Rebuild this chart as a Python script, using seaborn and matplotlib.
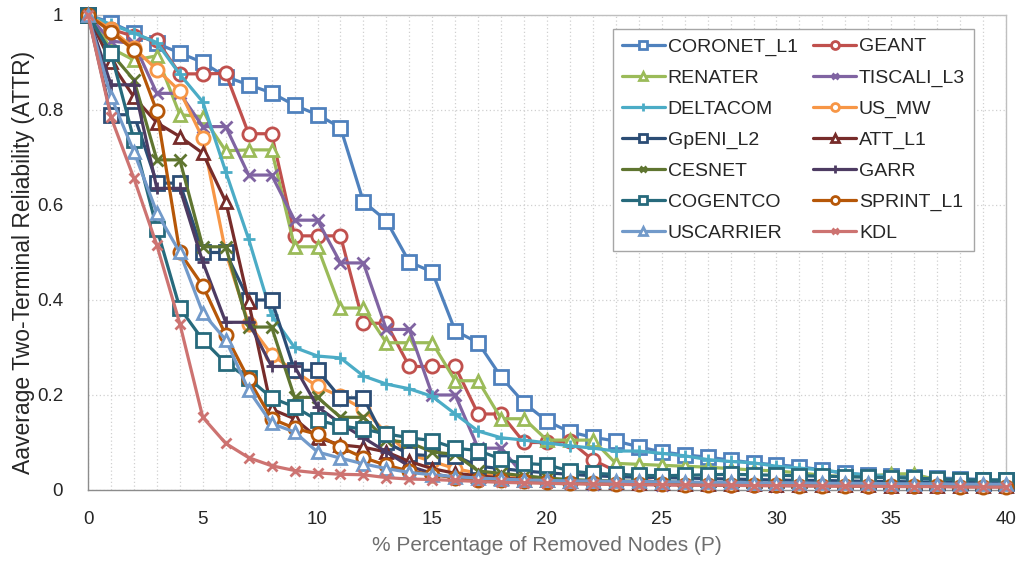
import matplotlib
matplotlib.use("Agg")
import matplotlib.pyplot as plt
import seaborn as sns
import pandas as pd
from matplotlib.ticker import MultipleLocator

# Percentage of removed nodes (x axis)
removed_pct = list(range(0, 41))

coronet_l1 = [1.0, 0.984, 0.962, 0.94, 0.92, 0.90, 0.87, 0.853, 0.836, 0.81, 0.79,
              0.763, 0.607, 0.567, 0.48, 0.459, 0.335, 0.31, 0.238, 0.183, 0.145,
              0.122, 0.111, 0.103, 0.091, 0.08, 0.074, 0.069, 0.063, 0.057, 0.053,
              0.049, 0.042, 0.035, 0.032, 0.03, 0.028, 0.025, 0.024, 0.022, 0.02]
geant = [1.0, 0.97, 0.955, 0.947, 0.876, 0.876, 0.877, 0.75, 0.75, 0.535, 0.535,
         0.535, 0.351, 0.351, 0.26, 0.26, 0.26, 0.16, 0.16, 0.10, 0.10,
         0.103, 0.063, 0.04, 0.022, 0.015, 0.012, 0.012, 0.011, 0.011, 0.01,
         0.01, 0.01, 0.01, 0.009, 0.009, 0.009, 0.008, 0.008, 0.008, 0.008]
renater = [1.0, 0.93, 0.905, 0.914, 0.79, 0.786, 0.714, 0.716, 0.716, 0.512, 0.512,
           0.383, 0.383, 0.31, 0.31, 0.31, 0.23, 0.23, 0.15, 0.15, 0.105,
           0.105, 0.105, 0.056, 0.054, 0.052, 0.05, 0.048, 0.045, 0.042, 0.04,
           0.036, 0.031, 0.028, 0.028, 0.034, 0.034, 0.02, 0.02, 0.02, 0.02]
tiscali_l3 = [1.0, 0.945, 0.94, 0.835, 0.835, 0.765, 0.765, 0.663, 0.663, 0.568, 0.568,
              0.478, 0.478, 0.338, 0.338, 0.20, 0.20, 0.088, 0.088, 0.03, 0.02,
              0.015, 0.013, 0.012, 0.012, 0.011, 0.011, 0.01, 0.01, 0.01, 0.009,
              0.009, 0.009, 0.009, 0.008, 0.008, 0.008, 0.008, 0.008, 0.007, 0.007]
deltacom = [1.0, 0.98, 0.962, 0.942, 0.875, 0.817, 0.67, 0.528, 0.368, 0.30, 0.282,
            0.278, 0.24, 0.223, 0.213, 0.197, 0.16, 0.124, 0.11, 0.105, 0.099,
            0.093, 0.088, 0.082, 0.082, 0.077, 0.072, 0.064, 0.06, 0.057, 0.05,
            0.046, 0.042, 0.036, 0.031, 0.028, 0.024, 0.022, 0.02, 0.019, 0.018]
us_mw = [1.0, 0.97, 0.93, 0.885, 0.84, 0.74, 0.50, 0.35, 0.285, 0.25, 0.218,
         0.197, 0.17, 0.12, 0.075, 0.06, 0.045, 0.035, 0.03, 0.025, 0.022,
         0.02, 0.018, 0.017, 0.016, 0.015, 0.015, 0.014, 0.014, 0.013, 0.013,
         0.012, 0.012, 0.012, 0.011, 0.011, 0.011, 0.01, 0.01, 0.01, 0.01]
gpeni_l2 = [1.0, 0.79, 0.79, 0.646, 0.646, 0.50, 0.50, 0.40, 0.40, 0.252, 0.252,
            0.194, 0.194, 0.10, 0.075, 0.072, 0.072, 0.05, 0.045, 0.04, 0.036,
            0.033, 0.03, 0.028, 0.027, 0.026, 0.025, 0.024, 0.023, 0.022, 0.021,
            0.02, 0.02, 0.019, 0.018, 0.018, 0.017, 0.016, 0.016, 0.015, 0.015]
att_l1 = [1.0, 0.90, 0.827, 0.773, 0.744, 0.709, 0.607, 0.395, 0.17, 0.15, 0.11,
          0.095, 0.09, 0.08, 0.06, 0.045, 0.035, 0.03, 0.025, 0.022, 0.02,
          0.018, 0.017, 0.016, 0.015, 0.014, 0.013, 0.013, 0.012, 0.012, 0.011,
          0.011, 0.01, 0.01, 0.01, 0.009, 0.009, 0.009, 0.008, 0.008, 0.008]
cesnet = [1.0, 0.92, 0.863, 0.695, 0.695, 0.512, 0.512, 0.343, 0.343, 0.195, 0.195,
          0.153, 0.153, 0.105, 0.10, 0.08, 0.075, 0.04, 0.035, 0.03, 0.025,
          0.022, 0.02, 0.019, 0.018, 0.017, 0.016, 0.015, 0.015, 0.014, 0.014,
          0.013, 0.013, 0.012, 0.012, 0.011, 0.011, 0.011, 0.01, 0.01, 0.01]
garr = [1.0, 0.853, 0.853, 0.635, 0.635, 0.48, 0.353, 0.353, 0.26, 0.26, 0.175,
        0.14, 0.11, 0.08, 0.05, 0.035, 0.025, 0.02, 0.018, 0.017, 0.016,
        0.015, 0.014, 0.013, 0.013, 0.012, 0.012, 0.011, 0.011, 0.01, 0.01,
        0.01, 0.01, 0.009, 0.009, 0.009, 0.009, 0.008, 0.008, 0.008, 0.008]
cogentco = [1.0, 0.92, 0.737, 0.55, 0.383, 0.316, 0.267, 0.235, 0.194, 0.175, 0.147,
            0.135, 0.128, 0.118, 0.11, 0.104, 0.088, 0.083, 0.065, 0.056, 0.053,
            0.04, 0.035, 0.033, 0.031, 0.03, 0.031, 0.032, 0.033, 0.032, 0.031,
            0.03, 0.029, 0.028, 0.027, 0.026, 0.025, 0.023, 0.022, 0.021, 0.021]
sprint_l1 = [1.0, 0.965, 0.926, 0.797, 0.50, 0.43, 0.326, 0.233, 0.15, 0.13, 0.117,
             0.09, 0.068, 0.052, 0.04, 0.032, 0.026, 0.022, 0.02, 0.018, 0.016,
             0.015, 0.014, 0.013, 0.012, 0.012, 0.011, 0.011, 0.01, 0.01, 0.01,
             0.009, 0.009, 0.009, 0.008, 0.008, 0.008, 0.008, 0.007, 0.007, 0.007]
uscarrier = [1.0, 0.828, 0.712, 0.584, 0.50, 0.373, 0.316, 0.21, 0.14, 0.122, 0.08,
             0.067, 0.055, 0.045, 0.037, 0.032, 0.028, 0.025, 0.023, 0.021, 0.02,
             0.019, 0.019, 0.018, 0.018, 0.017, 0.017, 0.016, 0.016, 0.015, 0.015,
             0.015, 0.014, 0.014, 0.014, 0.013, 0.013, 0.013, 0.012, 0.012, 0.012]
kdl = [1.0, 0.785, 0.656, 0.515, 0.35, 0.153, 0.098, 0.068, 0.051, 0.041, 0.036,
       0.033, 0.032, 0.026, 0.023, 0.022, 0.02, 0.018, 0.016, 0.015, 0.014,
       0.013, 0.012, 0.012, 0.011, 0.011, 0.01, 0.01, 0.01, 0.009, 0.009,
       0.009, 0.008, 0.008, 0.008, 0.007, 0.007, 0.007, 0.006, 0.006, 0.006]

series_names = ["CORONET_L1", "GEANT", "RENATER", "TISCALI_L3", "DELTACOM", "US_MW",
                "GpENI_L2", "ATT_L1", "CESNET", "GARR", "COGENTCO", "SPRINT_L1",
                "USCARRIER", "KDL"]
series_values = [coronet_l1, geant, renater, tiscali_l3, deltacom, us_mw,
                 gpeni_l2, att_l1, cesnet, garr, cogentco, sprint_l1,
                 uscarrier, kdl]
series_colors = ["#4F81BD", "#C0504D", "#9BBB59", "#8064A2", "#4BACC6", "#F79646",
                 "#2C4D75", "#772C2A", "#5F7530", "#4D3B62", "#276A7C", "#B65708",
                 "#729ACA", "#CD7371"]
series_markers = ["s", "o", "^", "x", "+", "o", "s", "^", "x", "+", "s", "o", "^", "x"]
marker_sizes = {"s": 9.5, "o": 9.5, "^": 8.5, "x": 8, "+": 9}

sns.set_style("white")
plt.rcParams["font.family"] = ["Liberation Sans", "DejaVu Sans"]

fig = plt.figure(figsize=(10.19, 5.63), dpi=100)
ax = fig.add_axes([0.0864, 0.1297, 0.9008, 0.8437])

for name, vals, col, mk in zip(series_names, series_values, series_colors, series_markers):
    df = pd.DataFrame({"p": removed_pct, "attr": vals})
    ms = marker_sizes[mk] if name != "KDL" else 6.5
    sns.lineplot(data=df, x="p", y="attr", ax=ax, color=col, marker=mk,
                 markersize=ms, markerfacecolor="white", markeredgecolor=col,
                 markeredgewidth=2.0, linewidth=2.3, label=name, legend=False,
                 clip_on=False, zorder=3)

ax.set_xlim(0, 40)
ax.set_ylim(0, 1)
ax.xaxis.set_major_locator(MultipleLocator(5))
ax.xaxis.set_minor_locator(MultipleLocator(1))
ax.set_yticks([0, 0.2, 0.4, 0.6, 0.8, 1.0])
ax.set_yticklabels(["0", "0.2", "0.4", "0.6", "0.8", "1"])

ax.grid(True, which="both", axis="x", linestyle=(0, (1, 2)), color="#D0D0D0", linewidth=0.9)
ax.grid(True, which="major", axis="y", linestyle=(0, (1, 2)), color="#D0D0D0", linewidth=0.9)
ax.set_axisbelow(True)

for side in ["left", "bottom"]:
    ax.spines[side].set_color("#8C8C8C")
    ax.spines[side].set_linewidth(1.0)
for side in ["top", "right"]:
    ax.spines[side].set_color("#BFBFBF")
    ax.spines[side].set_linewidth(1.0)

ax.tick_params(axis="both", which="both", direction="out", color="#8C8C8C",
               labelsize=13.5, labelcolor="#262626")
ax.tick_params(axis="x", which="major", length=5, width=1, pad=10)
ax.tick_params(axis="x", which="minor", length=5, width=1)
ax.tick_params(axis="y", which="major", length=5, width=1, pad=13)

ax.set_xlabel("% Percentage of Removed Nodes (P)", fontsize=15, color="#6E6E6E", labelpad=6)
ax.set_ylabel("Aaverage Two-Terminal Reliability (ATTR)", fontsize=16.5, color="#262626")
ax.yaxis.set_label_coords(-0.058, 0.479)

# Legend entries listed row by row across two columns
handles, labels = ax.get_legend_handles_labels()
order = list(range(0, len(handles), 2)) + list(range(1, len(handles), 2))
leg = ax.legend([handles[i] for i in order], [labels[i] for i in order],
                ncol=2, loc="upper right", bbox_to_anchor=(0.965, 0.9705),
                borderaxespad=0, fontsize=14, frameon=True, fancybox=False,
                edgecolor="#A6A6A6", framealpha=1, markerscale=0.6,
                handlelength=2.2, handletextpad=0.15, columnspacing=0.8,
                labelspacing=0.69, borderpad=0.45)
leg.get_frame().set_linewidth(1.0)
leg.set_zorder(5)

fig.savefig("out.png", dpi=100)
